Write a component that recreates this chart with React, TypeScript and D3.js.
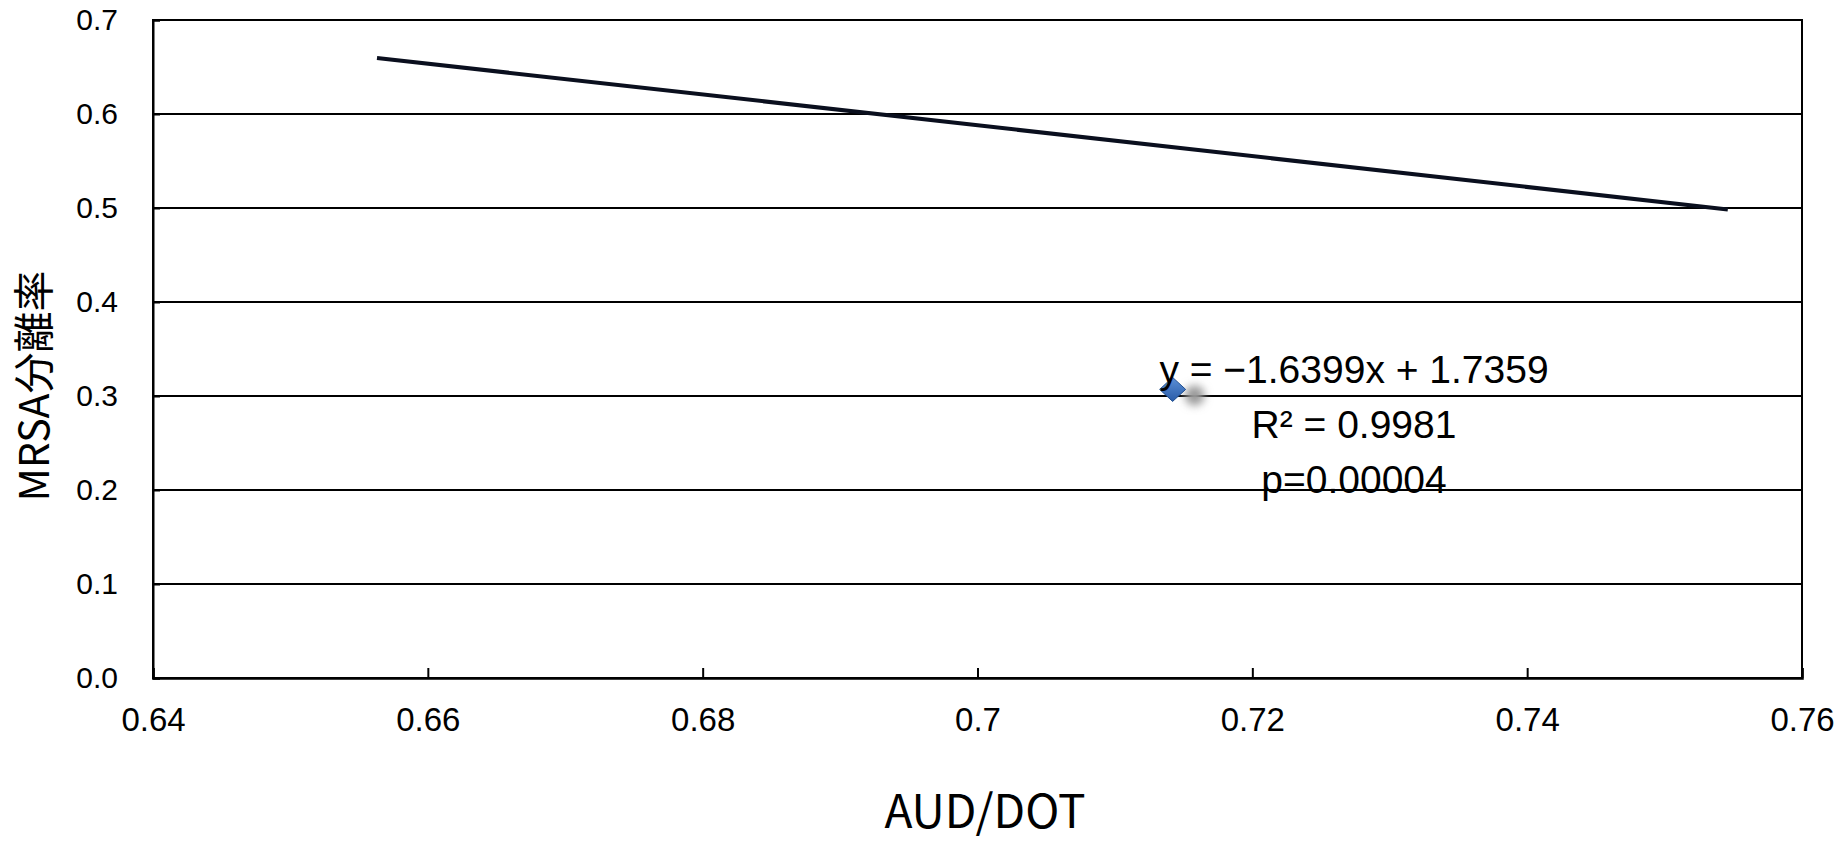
import * as d3 from "d3";
import { useEffect, useRef } from "react";

// observed point(s) and fitted trend line
const pointsX = [0.7142];
const pointsY = [0.307];
const trendRange = [0.6563, 0.7546];
const slope = -1.6399;
const intercept = 1.7359;

const xTicks = [0.64, 0.66, 0.68, 0.7, 0.72, 0.74, 0.76];
const yTicks = [0, 0.1, 0.2, 0.3, 0.4, 0.5, 0.6, 0.7];
const statLines = ["y = \u22121.6399x + 1.7359", "R\u00b2 = 0.9981", "p=0.00004"];

const W = 1848;
const H = 843;

const App = () => {
  const ref = useRef<SVGSVGElement>(null);

  useEffect(() => {
    const margin = { top: 20, right: 46, bottom: 165, left: 153 },
      width = W - margin.left - margin.right,
      height = H - margin.top - margin.bottom;

    const root = d3.select(ref.current);
    root.selectAll("*").remove();

    const defs = root.append("defs");
    defs
      .append("filter")
      .attr("id", "blur")
      .attr("x", "-100%")
      .attr("y", "-100%")
      .attr("width", "300%")
      .attr("height", "300%")
      .append("feGaussianBlur")
      .attr("stdDeviation", 4);
    const grad = defs
      .append("linearGradient")
      .attr("id", "dia")
      .attr("x1", 0)
      .attr("y1", 0)
      .attr("x2", 0)
      .attr("y2", 1);
    grad.append("stop").attr("offset", "0%").attr("stop-color", "#5b8fd6");
    grad.append("stop").attr("offset", "100%").attr("stop-color", "#2a5ca8");

    const svg = root
      .append("g")
      .attr("transform", `translate(${margin.left},${margin.top})`);

    const x = d3.scaleLinear().domain([0.64, 0.76]).range([0, width]);
    const y = d3.scaleLinear().domain([0, 0.7]).range([height, 0]);

    // horizontal gridlines
    svg
      .selectAll("line.grid")
      .data(yTicks.slice(1))
      .join("line")
      .attr("class", "grid")
      .attr("x1", 0)
      .attr("x2", width)
      .attr("y1", (d) => y(d))
      .attr("y2", (d) => y(d))
      .attr("stroke", "#000")
      .attr("stroke-width", 2);

    // plot frame
    svg
      .append("rect")
      .attr("width", width)
      .attr("height", height)
      .attr("fill", "none")
      .attr("stroke", "#000")
      .attr("stroke-width", 2);

    // x axis, ticks pointing inward
    const xAxis = svg
      .append("g")
      .attr("transform", `translate(0,${height})`)
      .call(
        d3
          .axisBottom(x)
          .tickValues(xTicks)
          .tickSize(-10)
          .tickPadding(30)
          .tickFormat(d3.format(""))
      );
    xAxis.select(".domain").attr("stroke-width", 2.5);
    xAxis.selectAll(".tick line").attr("stroke-width", 2);
    xAxis
      .selectAll("text")
      .attr("font-size", 33)
      .attr("font-family", "Liberation Sans, Arial, sans-serif")
      .attr("fill", "#000");

    // y axis
    const yAxis = svg.append("g").call(
      d3
        .axisLeft(y)
        .tickValues(yTicks)
        .tickSize(-7)
        .tickPadding(35)
        .tickFormat(d3.format(".1f"))
    );
    yAxis.select(".domain").attr("stroke-width", 2);
    yAxis.selectAll(".tick line").attr("stroke-width", 2);
    yAxis
      .selectAll("text")
      .attr("font-size", 30)
      .attr("font-family", "Liberation Sans, Arial, sans-serif")
      .attr("fill", "#000");

    // trend line
    svg
      .append("path")
      .datum(trendRange)
      .attr(
        "d",
        d3
          .line<number>()
          .x((d) => x(d))
          .y((d) => y(slope * d + intercept))
      )
      .attr("fill", "none")
      .attr("stroke", "#0a0f1e")
      .attr("stroke-width", 4);

    // markers with soft shadow
    const pts = pointsX.map((v, i) => ({ x: v, y: pointsY[i] }));
    svg
      .selectAll("circle.shadow")
      .data(pts)
      .join("circle")
      .attr("class", "shadow")
      .attr("cx", (d) => x(d.x) + 22)
      .attr("cy", (d) => y(d.y) + 6)
      .attr("r", 10)
      .attr("fill", "#999")
      .attr("filter", "url(#blur)");
    svg
      .selectAll("path.pt")
      .data(pts)
      .join("path")
      .attr("class", "pt")
      .attr("transform", (d) => `translate(${x(d.x)},${y(d.y)})`)
      .attr("d", "M0,-12 L13,0 L0,12 L-13,0 Z")
      .attr("fill", "url(#dia)")
      .attr("stroke", "#1f4e8f")
      .attr("stroke-width", 1);

    // regression label
    svg
      .append("g")
      .selectAll("text")
      .data(statLines)
      .join("text")
      .attr("x", 1354 - margin.left)
      .attr("y", (d, i) => 363 + i * 55)
      .attr("text-anchor", "middle")
      .attr("font-size", 39)
      .attr("font-family", "Liberation Sans, Arial, sans-serif")
      .attr("fill", "#000")
      .text((d) => d);

    // axis titles
    root
      .append("text")
      .attr("x", 985)
      .attr("y", 828)
      .attr("text-anchor", "middle")
      .attr("font-size", 46)
      .attr("font-family", "Noto Sans CJK JP, sans-serif")
      .attr("fill", "#000")
      .text("AUD/DOT");
    root
      .append("text")
      .attr("transform", `translate(49,386) rotate(-90)`)
      .attr("text-anchor", "middle")
      .attr("font-size", 41)
      .attr("font-family", "Noto Sans CJK JP, sans-serif")
      .attr("fill", "#000")
      .text("MRSA分離率");
  }, []);

  return (
    <svg
      ref={ref}
      width={W}
      height={H}
      style={{ position: "absolute", left: 0, top: 0, background: "#fff" }}
    />
  );
};

export default App;
